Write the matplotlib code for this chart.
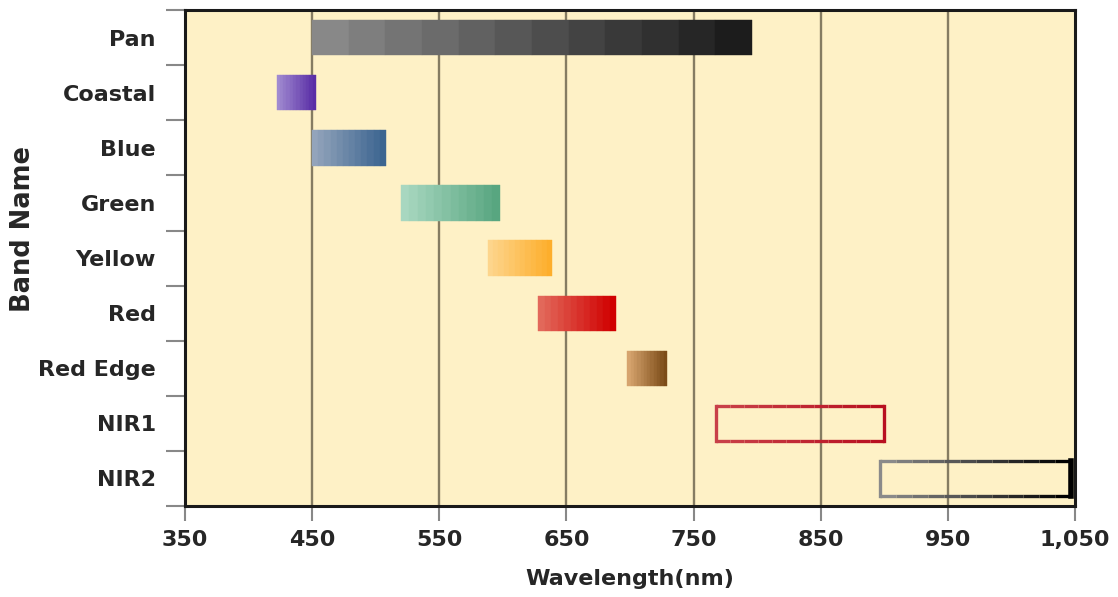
import matplotlib.pyplot as plt
from matplotlib.colors import to_rgb
import numpy as np

plt.rcParams['font.family'] = ['DejaVu Sans']

bands = ['Pan', 'Coastal', 'Blue', 'Green', 'Yellow', 'Red', 'Red Edge', 'NIR1', 'NIR2']
starts = [450, 422, 450, 520, 588, 628, 698, 768, 897]
ends = [796, 453, 508, 598, 639, 689, 729, 900, 1047]
color_from = ['#888888', '#a08ad0', '#93a4bb', '#a8d7c0', '#fdd58c', '#e2685a', '#d6a46e', '#c84048', '#8a8a8a']
color_to = ['#1c1c1c', '#5a2ea6', '#3c6590', '#58a680', '#fdae2c', '#d00000', '#7c4c18', '#b81020', '#000000']
outlined = [False, False, False, False, False, False, False, True, True]

xticks = [350, 450, 550, 650, 750, 850, 950, 1050]
xtick_labels = ['350', '450', '550', '650', '750', '850', '950', '1,050']

fig = plt.figure(figsize=(11.18, 5.97), dpi=100)
ax = fig.add_axes([0.1655, 0.1524, 0.7960, 0.8306])
ax.set_facecolor('#fef1c6')

for x in xticks[1:-1]:
    ax.axvline(x, color='#857c62', lw=1.7, zorder=1)

steps = 12
h = 0.64
for i, name in enumerate(bands):
    c0 = np.array(to_rgb(color_from[i]))
    c1 = np.array(to_rgb(color_to[i]))
    edges = np.linspace(starts[i], ends[i], steps + 1)
    for k in range(steps):
        col = c0 + (c1 - c0) * k / (steps - 1)
        if outlined[i]:
            ax.plot([edges[k], edges[k + 1]], [i - h / 2, i - h / 2], color=col, lw=2.4,
                    solid_capstyle='butt', zorder=3)
            ax.plot([edges[k], edges[k + 1]], [i + h / 2, i + h / 2], color=col, lw=2.4,
                    solid_capstyle='butt', zorder=3)
        else:
            ax.barh(i, edges[k + 1] - edges[k], left=edges[k], height=h, color=col,
                    edgecolor=col, lw=0.3, zorder=2)
    if outlined[i]:
        ax.plot([starts[i], starts[i]], [i - h / 2, i + h / 2], color=c0, lw=2.4, zorder=3)
        ax.plot([ends[i], ends[i]], [i - h / 2, i + h / 2], color=c1,
                lw=2.4 if i == 7 else 4, zorder=3)

ax.set_xlim(350, 1050)
ax.set_ylim(len(bands) - 0.5, -0.5)
ax.set_xticks(xticks)
ax.set_xticklabels(xtick_labels, fontsize=16, fontweight='bold', color='#262626')
ax.set_yticks(range(len(bands)))
ax.set_yticklabels(bands, fontsize=16, fontweight='bold', color='#262626')
ax.set_yticks(np.arange(-0.5, len(bands)), minor=True)
ax.tick_params(axis='y', which='major', length=0, pad=21)
ax.tick_params(axis='y', which='minor', length=14, width=1.5, color='#888888')
ax.tick_params(axis='x', which='major', length=11, width=1.5, color='#888888', pad=6)

for s in ax.spines.values():
    s.set_linewidth(2.2)
    s.set_color('#1a1a1a')

ax.set_xlabel('Wavelength(nm)', fontsize=16, fontweight='bold', color='#262626', labelpad=14)
ax.set_ylabel('Band Name', fontsize=18.5, fontweight='bold', color='#262626')
ax.yaxis.set_label_coords(-0.168, 0.558)

fig.savefig('out.png', dpi=100)
